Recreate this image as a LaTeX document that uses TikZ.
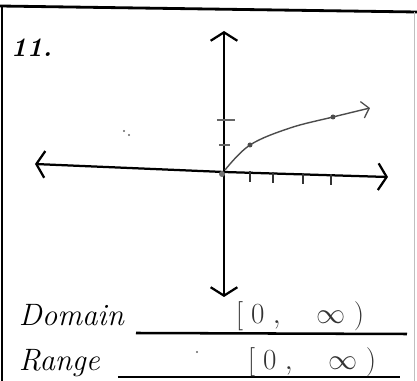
\documentclass[tikz,border=0pt]{standalone}
\usetikzlibrary{arrows.meta}
\begin{document}
\begin{tikzpicture}[x=0.025cm,y=-0.025cm,
	eje/.style={line width=1.6pt,-{Straight Barb[length=6pt,width=19pt,line width=1.6pt]}},
	marca/.style={line width=1pt,black!80},
	respuesta/.style={black!80,font=\fontsize{22}{24}\selectfont},
	linea/.style={line width=1.8pt}]
	\useasboundingbox (0,0) rectangle (417,381);

		%Marco de la hoja
		\draw[line width=2pt] (0,6) -- (417,12);
		\draw[line width=1pt] (2,6) -- (2,381);
		\draw[black!25,line width=0.6pt] (414,12) -- (414,381);
		\node[font=\bfseries\itshape\fontsize{19}{22}\selectfont,anchor=base west] (num) at (6,57) {11.};

		%Dibuja los ejes
		\coordinate (O) at (224,172);
		\coordinate (izq) at (35,164);
		\coordinate (der) at (388,177);
		\coordinate (arriba) at (224,31);
		\coordinate (abajo) at (224,297);
		\draw[eje] (O) -- (izq);
		\draw[eje] (O) -- (der);
		\draw[eje] (O) -- (arriba);
		\draw[eje] (O) -- (abajo);

		%Marcas en los ejes
		\foreach \t in {250,273,303,331}
			\draw[marca] (\t,{164+(\t-35)*13/353-1}) -- (\t,{164+(\t-35)*13/353+10});
		\draw[marca,black!60] (217,120) -- (235,120);
		\draw[marca,black!60] (219,145) -- (230,145);

		%Curva raiz cuadrada
		\draw[black!70,line width=1pt,-{Straight Barb[length=5pt,width=12pt,line width=0.9pt]}]
			plot[smooth,tension=0.6] coordinates {(225,170) (250,145) (290,128) (333,117) (370,108)};
		\fill[black!70] (250,145) circle (2.5);
		\fill[black!70] (333,117) circle (2.5);
		\fill[black!55] (222,174) circle (3);
		\fill[black!60] (124,131) circle (1.2);
		\fill[black!60] (129,135) circle (1.2);

		%Dominio y rango
		\node[font=\fontsize{22}{24}\selectfont\itshape,anchor=base west] (dom) at (14,326) {Domain};
		\node[font=\fontsize{22}{24}\selectfont\itshape,anchor=base west] (ran) at (14,371) {Range};
		\draw[linea] (136,333) -- (407,334);
		\draw[linea] (118,377) -- (400,377);
		\node[respuesta,anchor=base] (resdom) at (300,324) {$[\;0\;,\quad\infty\;)$};
		\node[respuesta,anchor=base] (resran) at (312,370) {$[\;0\;,\quad\infty\;)$};
		\fill[black!60] (197,352) circle (1.2);

\end{tikzpicture}
\end{document}
